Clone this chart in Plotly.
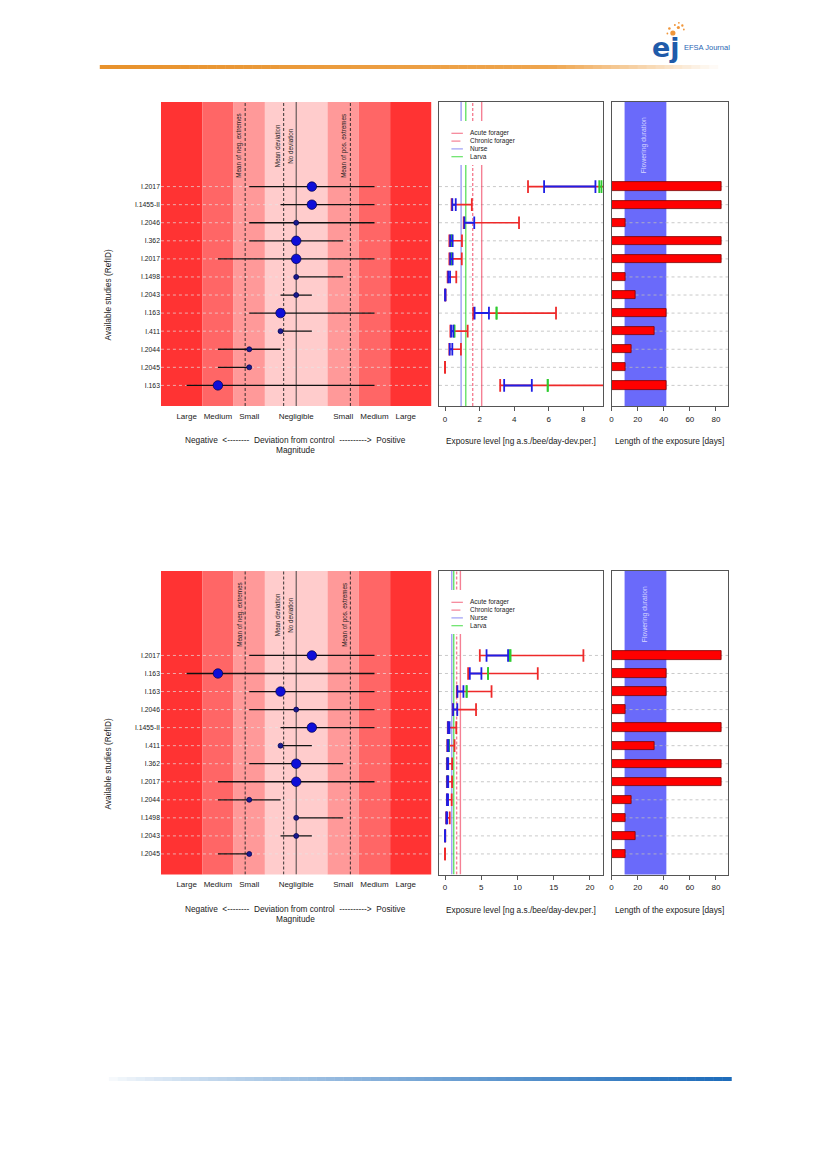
import plotly.graph_objects as go

# ------------------------------------------------------------------ data
study_ids = ["I.2017", "I.1455-II", "I.2046", "I.362", "I.2017", "I.1498",
             "I.2043", "I.163", "I.411", "I.2044", "I.2045", "I.163"]
# deviation from control (magnitude scale: 0 negligible, +-1.5 small, +-2.5 medium, +-3.5 large)
dev_point = [0.5, 0.5, 0, 0, 0, 0, 0, -0.5, -0.5, -1.5, -1.5, -2.5]
dev_low = [-1.5, -0.5, -1.5, -1.5, -2.5, 0, -0.5, -1.5, -0.5, -2.5, -2.5, -3.5]
dev_high = [2.5, 2.5, 2.5, 1.5, 2.5, 1.5, 0.5, 2.5, 0.5, -0.5, -1.5, 2.5]
dev_weight = [2, 2, 1, 2, 2, 1, 1, 2, 1, 1, 1, 2]

# exposure levels [ng a.s./bee/day-dev.per.]
forager_low = [4.80, 0.38, 1.08, 0.25, 0.25, 0.15, 0.00, 1.63, 0.31, 0.25, 0.00, 3.19]
forager_high = [19.10, 1.55, 4.28, 0.98, 0.97, 0.65, 0.03, 6.42, 1.31, 0.92, 0.00, 12.80]
nurse_low = [5.73, 0.42, 1.12, 0.30, 0.30, 0.19, 0.01, 1.71, 0.35, 0.27, None, 3.42]
nurse_high = [8.70, 0.62, 1.69, 0.44, 0.44, 0.29, 0.02, 2.54, 0.48, 0.42, None, 5.02]
larva_low = [8.92, None, None, 0.38, 0.38, None, None, 2.98, 0.54, None, None, 5.94]
larva_high = [9.05, None, None, 0.38, 0.38, None, None, 2.98, 0.54, None, None, 5.94]

# length of the exposure [days]
exposure_days = [84, 84, 11, 84, 84, 11, 18, 42, 33, 15, 11, 42]

magnitude_ticks = [-3.5, -2.5, -1.5, 0, 1.5, 2.5, 3.5]
magnitude_labels = ["Large", "Medium", "Small", "Negligible", "Small", "Medium", "Large"]
band_edges = [-4.32, -3, -2, -1, 1, 2, 3, 4.32]

mean_neg_extremes = -1.63
mean_deviation = -0.40
no_deviation = 0
mean_pos_extremes = 1.73

ref_acute_forager = 2.12
ref_chronic_forager = 1.60
ref_nurse = 0.93
ref_larva = 1.20

flowering_start = 10
flowering_end = 42

legend_labels = ["Acute forager", "Chronic forager", "Nurse", "Larva"]

# ------------------------------------------------------------------ layout helpers
PAGE_W, PAGE_H = 827, 1169
OFF = 8                      # default body margin of the html page
W, H = PAGE_W - OFF, PAGE_H - OFF
FONT = "Liberation Sans, Arial, sans-serif"


def fx(px):
    return (px - OFF) / W


def fy(py):
    return 1 - (py - OFF) / H


LEFT = (159.3, 430.5)
MID = (438.0, 602.7)
RIGHT = (611.0, 728.0)
PANELS = [dict(top=102.0, bottom=406.0, exp_max=8.8, exp_ticks=[0, 2, 4, 6, 8]),
          dict(top=571.0, bottom=874.5, exp_max=21.0, exp_ticks=[0, 5, 10, 15, 20])]
Y_RANGE = [-0.14, 16.68]
DEV_RANGE = [band_edges[0], band_edges[-1]]
DAY_RANGE = [0, 89.4]

band_colors = ["#FF3333", "#FF6666", "#FF9999", "#FFCCCC", "#FF9999", "#FF6666", "#FF3333"]
RED, BLUE, GREEN = "#EE2A2A", "#1E1EE6", "#2ECC2E"
REF_RED, REF_BLUE, REF_GREEN = "rgba(240,60,90,0.65)", "rgba(60,60,235,0.5)", "rgba(20,210,20,0.65)"

top_order = list(range(len(study_ids)))
bottom_order = sorted(top_order, key=lambda i: -forager_high[i])

fig = go.Figure()
shapes, annotations = [], []
layout_axes = {}


def ax(i, kind):
    return kind if i == 1 else f"{kind}{i}"


def seg_xy(vals_lo, vals_hi, rows):
    xs, ys = [], []
    for lo, hi, r in zip(vals_lo, vals_hi, rows):
        if lo is None:
            continue
        xs += [lo, hi, None]
        ys += [r, r, None]
    return xs, ys


def ann(**kw):
    d = dict(showarrow=False, xanchor="center", yanchor="middle")
    d.update(kw)
    annotations.append(d)


for p, P in enumerate(PANELS):
    order = top_order if p == 0 else bottom_order
    n = len(order)
    rows = [n - k for k in range(n)]
    i1, i2, i3 = 3 * p + 1, 3 * p + 2, 3 * p + 3
    ydom = [fy(P["bottom"]), fy(P["top"])]
    top = P["top"]
    bottom = P["bottom"]

    ids = [study_ids[i] for i in order]
    dp = [dev_point[i] for i in order]
    dl = [dev_low[i] for i in order]
    dh = [dev_high[i] for i in order]
    dw = [dev_weight[i] for i in order]
    fl = [forager_low[i] for i in order]
    fh = [forager_high[i] for i in order]
    nl = [nurse_low[i] for i in order]
    nh = [nurse_high[i] for i in order]
    ll = [larva_low[i] for i in order]
    lh = [larva_high[i] for i in order]
    days = [exposure_days[i] for i in order]

    # ---------------- left panel: deviation magnitude
    xa, ya = ax(i1, "x"), ax(i1, "y")
    for k in range(len(band_colors)):
        shapes.append(dict(type="rect", xref=xa, yref=f"{ya} domain", x0=band_edges[k],
                           x1=band_edges[k + 1], y0=0, y1=1, fillcolor=band_colors[k],
                           line=dict(width=0), layer="below"))
    gx, gy = seg_xy([DEV_RANGE[0]] * n, [DEV_RANGE[1]] * n, rows)
    fig.add_trace(go.Scatter(x=gx, y=gy, mode="lines", xaxis=xa, yaxis=ya,
                             line=dict(color="rgba(230,230,230,0.85)", width=0.8, dash="3px,3px"),
                             hoverinfo="skip"))
    for v, dash, col in [(mean_neg_extremes, "3px,2px", "#222"), (mean_deviation, "3px,2px", "#222"),
                         (mean_pos_extremes, "3px,2px", "#222"), (no_deviation, "solid", "#333")]:
        fig.add_trace(go.Scatter(x=[v, v], y=Y_RANGE, mode="lines", xaxis=xa, yaxis=ya,
                                 line=dict(color=col, width=0.9, dash=dash), hoverinfo="skip"))
    hx, hy = seg_xy(dl, dh, rows)
    fig.add_trace(go.Scatter(x=hx, y=hy, mode="lines", xaxis=xa, yaxis=ya,
                             line=dict(color="#111", width=1.3), hoverinfo="skip"))
    fig.add_trace(go.Scatter(x=dp, y=rows, mode="markers", xaxis=xa, yaxis=ya,
                             marker=dict(size=[9.5 if w > 1 else 5 for w in dw], opacity=1,
                                         color=["#0E0ED8" if w > 1 else "#1A1A90" for w in dw],
                                         line=dict(color="#00004A", width=0.7)),
                             hoverinfo="skip"))
    for txt, v in [("Mean of neg. extremes", mean_neg_extremes), ("Mean deviation", mean_deviation),
                   ("No deviation", no_deviation), ("Mean of pos. extremes", mean_pos_extremes)]:
        ann(text=txt, x=v, xref=xa, y=fy(top + 43.5), yref="paper", textangle=-90,
            xshift=-6, font=dict(size=6.3, color="#222", family=FONT))
    layout_axes[ax(i1, "xaxis")] = dict(domain=[fx(LEFT[0]), fx(LEFT[1])], range=DEV_RANGE,
                                        anchor=ya, tickvals=magnitude_ticks, ticktext=magnitude_labels,
                                        showgrid=False, zeroline=False, ticks="outside", ticklen=2,
                                        tickcolor="rgba(0,0,0,0)", ticklabelstandoff=0,
                                        tickfont=dict(size=8, color="#222", family=FONT))
    layout_axes[ax(i1, "yaxis")] = dict(domain=ydom, range=Y_RANGE, anchor=xa, tickvals=rows,
                                        ticktext=ids, showgrid=False, zeroline=False, ticks="",
                                        tickfont=dict(size=6.8, color="#222", family=FONT))

    # ---------------- middle panel: exposure level
    xb, yb = ax(i2, "x"), ax(i2, "y")
    emax = P["exp_max"]
    erange = [-0.04 * emax, 1.04 * emax]
    gx, gy = seg_xy([erange[0]] * n, [erange[1]] * n, rows)
    fig.add_trace(go.Scatter(x=gx, y=gy, mode="lines", xaxis=xb, yaxis=yb,
                             line=dict(color="#BBBBBB", width=0.8, dash="3px,3px"), hoverinfo="skip"))
    for v, col, dash in [(ref_nurse, REF_BLUE, "solid"), (ref_larva, REF_GREEN, "solid"),
                         (ref_chronic_forager, REF_RED, "3px,2px"), (ref_acute_forager, REF_RED, "solid")]:
        fig.add_trace(go.Scatter(x=[v, v], y=Y_RANGE, mode="lines", xaxis=xb, yaxis=yb,
                                 line=dict(color=col, width=1.4, dash=dash), hoverinfo="skip"))
    for lo_arr, hi_arr, col, lw in [(fl, fh, RED, 1.6), (ll, lh, GREEN, 1.6), (nl, nh, BLUE, 2.0)]:
        sx, sy = seg_xy(lo_arr, hi_arr, rows)
        fig.add_trace(go.Scatter(x=sx, y=sy, mode="lines", xaxis=xb, yaxis=yb,
                                 line=dict(color=col, width=lw), hoverinfo="skip"))
        tx, ty = [], []
        for lo, hi, r in zip(lo_arr, hi_arr, rows):
            if lo is None:
                continue
            tx += [lo, hi]
            ty += [r, r]
        fig.add_trace(go.Scatter(x=tx, y=ty, mode="markers", xaxis=xb, yaxis=yb,
                                 marker=dict(symbol="line-ns", size=9, color=col, opacity=1,
                                             line=dict(color=col, width=1.8)),
                                 hoverinfo="skip"))
    # legend box
    shapes.append(dict(type="rect", xref="paper", yref="paper", x0=fx(MID[0] + 1.5), x1=fx(MID[0] + 92),
                       y0=fy(top + 63), y1=fy(top + 19), fillcolor="white", line=dict(width=0),
                       layer="above"))
    for k, (lab, col, dash) in enumerate(zip(legend_labels, [REF_RED, REF_RED, REF_BLUE, REF_GREEN],
                                             ["solid", "dash", "solid", "solid"])):
        yy = fy(top + 31.3 + 7.8 * k)
        shapes.append(dict(type="line", xref="paper", yref="paper", x0=fx(MID[0] + 12.5),
                           x1=fx(MID[0] + 24), y0=yy, y1=yy, line=dict(color=col, width=1.2, dash=dash),
                           layer="above"))
        ann(text=lab, x=fx(MID[0] + 29.5), y=yy, xref="paper", yref="paper", xanchor="left",
            font=dict(size=6.5, color="#222", family=FONT))
    layout_axes[ax(i2, "xaxis")] = dict(domain=[fx(MID[0]), fx(MID[1])], range=erange, anchor=yb,
                                        tickvals=P["exp_ticks"], showgrid=False, zeroline=False,
                                        ticks="outside", ticklen=4, tickcolor="#555",
                                        showline=True, mirror=True, linecolor="#555", linewidth=1,
                                        ticklabelstandoff=1,
                                        tickfont=dict(size=8, color="#222", family=FONT))
    layout_axes[ax(i2, "yaxis")] = dict(domain=ydom, range=Y_RANGE, anchor=xb, showticklabels=False,
                                        showgrid=False, zeroline=False, ticks="",
                                        showline=True, mirror=True, linecolor="#555", linewidth=1)

    # ---------------- right panel: length of exposure
    xc, yc = ax(i3, "x"), ax(i3, "y")
    shapes.append(dict(type="rect", xref=xc, yref=f"{yc} domain", x0=flowering_start, x1=flowering_end,
                       y0=0, y1=1, fillcolor="#6A6AFA", line=dict(width=0), layer="below"))
    for r in rows:
        shapes.append(dict(type="line", xref=xc, yref=yc, x0=DAY_RANGE[0], x1=DAY_RANGE[1], y0=r, y1=r,
                           line=dict(color="#BBBBBB", width=0.8, dash="3px,3px"), layer="below"))
    fig.add_trace(go.Bar(x=days, y=rows, base=0, orientation="h", width=0.46, xaxis=xc, yaxis=yc,
                         marker=dict(color="#FF0000", line=dict(color="#7A0000", width=0.8)),
                         hoverinfo="skip"))
    ann(text="Flowering duration", x=(flowering_start + flowering_end) / 2 - 0.6,
        xref=xc, y=fy(top + 43.5), yref="paper", textangle=-90,
        font=dict(size=6.8, color="#D8D8FF", family=FONT))
    layout_axes[ax(i3, "xaxis")] = dict(domain=[fx(RIGHT[0]), fx(RIGHT[1])], range=DAY_RANGE, anchor=yc,
                                        tickvals=[0, 20, 40, 60, 80], showgrid=False, zeroline=False,
                                        ticks="outside", ticklen=4, tickcolor="#555",
                                        showline=True, mirror=True, linecolor="#555", linewidth=1,
                                        ticklabelstandoff=1,
                                        tickfont=dict(size=8, color="#222", family=FONT))
    layout_axes[ax(i3, "yaxis")] = dict(domain=ydom, range=Y_RANGE, anchor=xc, showticklabels=False,
                                        showgrid=False, zeroline=False, ticks="",
                                        showline=True, mirror=True, linecolor="#555", linewidth=1)

    # ---------------- axis titles
    tf = dict(size=8.3, color="#222", family=FONT)
    ann(text="Available studies (RefID)", x=fx(106.7), y=fy(top + 193), xref="paper", yref="paper",
        textangle=-90, font=tf)
    ann(text="Negative  <--------  Deviation from control  ---------->  Positive",
        x=fx((LEFT[0] + LEFT[1]) / 2 - 0.5), y=fy(bottom + 34), xref="paper", yref="paper", font=tf)
    ann(text="Magnitude", x=fx((LEFT[0] + LEFT[1]) / 2 - 0.5), y=fy(bottom + 44), xref="paper",
        yref="paper", font=tf)
    ann(text="Exposure level [ng a.s./bee/day-dev.per.]", x=fx((MID[0] + MID[1]) / 2),
        y=fy(bottom + 35), xref="paper", yref="paper", font=tf)
    ann(text="Length of the exposure [days]", x=fx((RIGHT[0] + RIGHT[1]) / 2),
        y=fy(bottom + 35), xref="paper", yref="paper", font=tf)


# ------------------------------------------------------------------ page decoration (header / footer)
def lerp(c1, c2, t):
    return tuple(int(round(a + (b - a) * t)) for a, b in zip(c1, c2))


N = 70
x_start, x_end = 98, 727
for k in range(N):
    t = k / (N - 1)
    if t < 0.72:
        c = lerp((232, 146, 44), (238, 165, 78), t / 0.72)
    else:
        c = lerp((238, 165, 78), (255, 255, 255), (t - 0.72) / 0.28)
    xa0 = x_start + (x_end - x_start) * k / N
    xa1 = x_start + (x_end - x_start) * (k + 1) / N + 0.5
    shapes.append(dict(type="rect", xref="paper", yref="paper", x0=fx(xa0), x1=fx(xa1),
                       y0=fy(69), y1=fy(65), fillcolor="rgb(%d,%d,%d)" % c, line=dict(width=0)))

x_start, x_end = 98, 731
for k in range(N):
    t = k / (N - 1)
    c = lerp((255, 255, 255), (30, 108, 186), min(1.0, t ** 0.75))
    xa0 = x_start + (x_end - x_start) * k / N
    xa1 = x_start + (x_end - x_start) * (k + 1) / N + 0.5
    shapes.append(dict(type="rect", xref="paper", yref="paper", x0=fx(xa0), x1=fx(xa1),
                       y0=fy(1081), y1=fy(1077), fillcolor="rgb(%d,%d,%d)" % c, line=dict(width=0)))

# logo
ann(text="<b>ej</b>", x=fx(665.5), y=fy(48), xref="paper", yref="paper",
    font=dict(size=27, color="#1F5BAA", family="DejaVu Sans"))
ann(text="EFSA Journal", x=fx(682), y=fy(47.5), xref="paper", yref="paper", xanchor="left",
    font=dict(size=7.5, color="#2A66B4", family=FONT))
for cx, cy, r in [(672.5, 33.0, 2.6), (678.0, 27.5, 1.6), (682.0, 25.5, 1.2), (669.0, 28.5, 1.3),
                  (674.5, 25.0, 1.0), (678.5, 22.8, 0.9), (683.5, 29.5, 0.9), (667.0, 33.5, 0.9)]:
    shapes.append(dict(type="circle", xref="paper", yref="paper", x0=fx(cx - r), x1=fx(cx + r),
                       y0=fy(cy + r), y1=fy(cy - r), fillcolor="#F0963A", line=dict(width=0)))

fig.update_layout(width=W, height=H, margin=dict(l=0, r=0, t=0, b=0), showlegend=False,
                  paper_bgcolor="white", plot_bgcolor="rgba(0,0,0,0)", shapes=shapes,
                  annotations=annotations, font=dict(family=FONT), bargap=0, **layout_axes)

fig.write_html("out.html")
